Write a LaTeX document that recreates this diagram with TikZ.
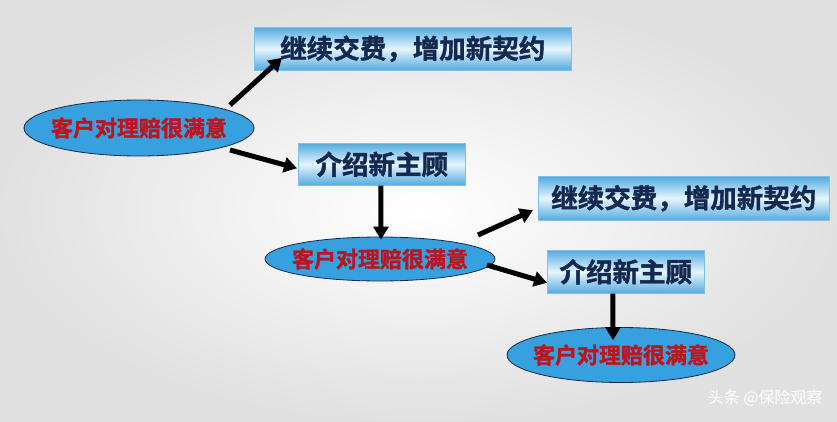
\documentclass[tikz,border=0pt]{standalone}
\usepackage{fontspec}
\newfontfamily\cjk{Noto Sans CJK SC}
\newfontfamily\cjkb[FakeBold=1.5]{Noto Sans CJK SC Bold}
\usetikzlibrary{arrows.meta,shapes.geometric,calc}
\definecolor{boxblue}{RGB}{40,150,215}
\definecolor{boxlight}{RGB}{230,245,253}
\definecolor{navy}{RGB}{20,40,80}
\definecolor{ellblue}{RGB}{55,160,222}
\definecolor{ellred}{RGB}{190,20,30}
\tikzset{
 box/.style={rectangle, inner sep=0pt, shade, top color=boxblue!80, bottom color=boxblue!80, middle color=boxlight, draw=boxblue!60, line width=0.6pt, font=\cjkb\fontsize{26.5}{26.5}\selectfont, text=navy, anchor=north west},
 ell/.style={ellipse, draw=navy, line width=0.8pt, fill=ellblue, inner sep=0pt},
 elltext/.style={font=\cjkb\fontsize{22}{22}\selectfont, text=ellred, inner sep=0pt},
 arr/.style={line width=5pt, -{Triangle[length=13pt,width=15pt]}, black}
}
\begin{document}
\begin{tikzpicture}[x=1pt,y=1pt]
\shade[inner color=white, outer color=black!12] (0,0) rectangle (837,421);
\useasboundingbox (0,0) rectangle (837,421);
\node[box, minimum width=317, minimum height=43] (b1) at (254,394) {继续交费，增加新契约};
\node[ell, minimum width=230, minimum height=56, label={[elltext]center:客户对理赔很满意}] (e1) at (139,293) {};
\node[box, minimum width=167, minimum height=42] (b2) at (298,278) {介绍新主顾};
\node[ell, minimum width=230, minimum height=44, label={[elltext]center:客户对理赔很满意}] (e2) at (380,162) {};
\node[box, minimum width=291, minimum height=44] (b3) at (538,245) {继续交费，增加新契约};
\node[box, minimum width=157, minimum height=43] (b4) at (547,171) {介绍新主顾};
\node[ell, minimum width=228, minimum height=55, label={[elltext]center:客户对理赔很满意}] (e3) at (621,66) {};
\node[font=\cjk\fontsize{16}{16}\selectfont, text=white, anchor=east] (wm) at (826,23) {头条 @保险观察};
\draw[arr] ($(e1.center)+(91,23)$) -- ($(b1.west)+(28,-9)$);
\draw[arr] ($(e1.center)+(91,-22)$) -- ($(b2.west)+(-1,-4)$);
\draw[arr] ($(b2.south)+(-1,0)$) -- ($(e2.north)+(1,-3)$);
\draw[arr] ($(e2.center)+(98,24)$) -- ($(b3.west)+(-5,-12)$);
\draw[arr] ($(e2.center)+(107,-6)$) -- ($(b4.west)+(0,-11)$);
\draw[arr] ($(b4.south)+(-13,0)$) -- ($(e3.north)+(-8,-13)$);
\end{tikzpicture}
\end{document}
